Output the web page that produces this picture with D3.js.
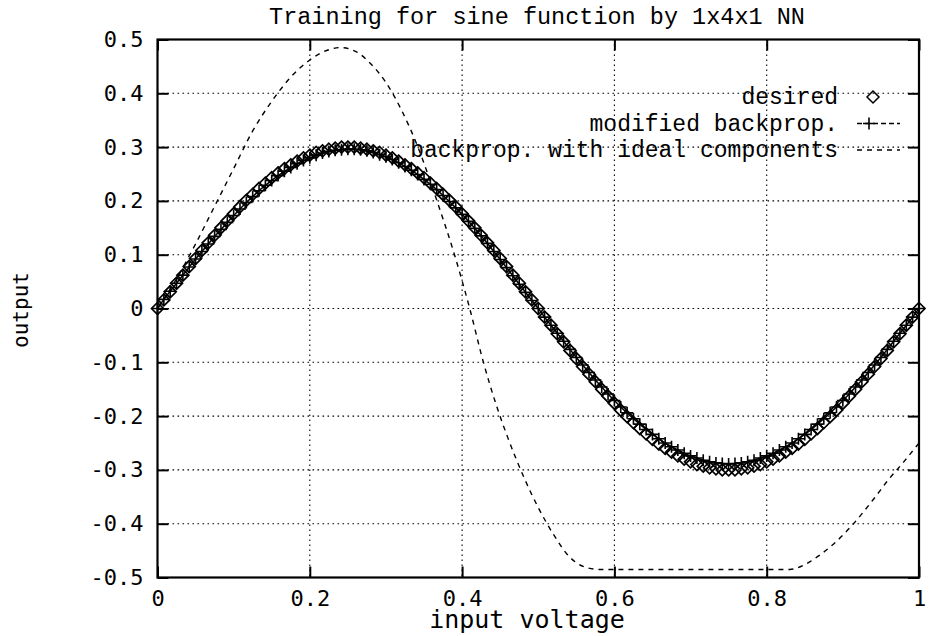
<!DOCTYPE html>
<html>
 <head>
  <meta charset="utf-8" />
  <title>Training for sine function by 1x4x1 NN</title>
  <script src="https://cdn.jsdelivr.net/npm/d3@7"></script>
  <style>
    body { margin: 0; background: #fff; }
  </style>
 </head>
 <body>
  <script>
    // sample inputs of the training set (evenly spaced on [0,1])
    var inputs = d3.range(121).map(function(i) { return i / 120; });

    var desired = [
      0, .016, .031, .047, .062, .078, .093, .108, .122, .136, .150, .163, .176, .189, .201, .212,
      .223, .233, .243, .252, .260, .267, .274, .280, .285, .290, .293, .296, .298, .300, .300,
      .300, .298, .296, .293, .290, .285, .280, .274, .267, .260, .252, .243, .233, .223, .212,
      .201, .189, .176, .163, .150, .136, .122, .108, .093, .078, .062, .047, .031, .016, 0,
      -.016, -.031, -.047, -.062, -.078, -.093, -.108, -.122, -.136, -.150, -.163, -.176, -.189, -.201, -.212,
      -.223, -.233, -.243, -.252, -.260, -.267, -.274, -.280, -.285, -.290, -.293, -.296, -.298, -.300, -.300,
      -.300, -.298, -.296, -.293, -.290, -.285, -.280, -.274, -.267, -.260, -.252, -.243, -.233, -.223, -.212,
      -.201, -.189, -.176, -.163, -.150, -.136, -.122, -.108, -.093, -.078, -.062, -.047, -.031, -.016, 0
    ];

    var modified = [
      0, .017, .032, .047, .062, .077, .092, .106, .120, .134, .147, .160, .173, .185, .197, .208,
      .219, .229, .238, .247, .255, .262, .269, .275, .280, .285, .289, .292, .294, .295, .296,
      .296, .295, .293, .290, .286, .282, .277, .271, .264, .257, .249, .240, .231, .221, .210,
      .199, .187, .175, .162, .149, .135, .121, .106, .091, .076, .061, .045, .030, .015, 0,
      -.016, -.031, -.046, -.061, -.076, -.091, -.105, -.119, -.133, -.146, -.159, -.171, -.183, -.194, -.205,
      -.215, -.225, -.234, -.242, -.250, -.257, -.263, -.269, -.274, -.278, -.282, -.285, -.287, -.288, -.289,
      -.288, -.287, -.285, -.282, -.278, -.274, -.269, -.263, -.257, -.250, -.242, -.234, -.225, -.215, -.205,
      -.194, -.183, -.171, -.159, -.146, -.133, -.119, -.105, -.091, -.076, -.061, -.046, -.031, -.016, 0
    ];

    // backprop. with ideal components
    var idealX = [0, .025, .05, .075, .1, .125, .15, .175, .2, .225, .24, .26, .28, .3, .32, .342,
                  .367, .39, .41, .428, .445, .46, .48, .5, .52, .54, .56, .58, .83, .85, .87,
                  .89, .914, .94, .96, .98, 1];
    var idealY = [0, .055, .12, .19, .26, .33, .385, .43, .462, .481, .485, .478, .455, .42, .37, .3,
                  .2, .1, 0, -.1, -.18, -.24, -.31, -.37, -.42, -.46, -.48, -.485, -.485, -.476, -.458,
                  -.435, -.4, -.355, -.318, -.285, -.25];

    var xTicks = [0, 0.2, 0.4, 0.6, 0.8, 1];
    var yTicks = [-0.5, -0.4, -0.3, -0.2, -0.1, 0, 0.1, 0.2, 0.3, 0.4, 0.5];

    var W = 929, H = 636;
    var pLeft = 157.5, pRight = 919, pTop = 39.5, pBottom = 577.5;

    var x = d3.scaleLinear().domain([0, 1]).range([pLeft, pRight]),
        y = d3.scaleLinear().domain([-0.5, 0.5]).range([pBottom, pTop]);

    var serif = "'Liberation Mono', 'Courier New', monospace",
        sans  = "'DejaVu Sans Mono', monospace";

    var svg = d3.select("body").append("svg")
        .attr("width", W).attr("height", H);

    svg.append("rect").attr("width", W).attr("height", H).attr("fill", "#fff");

    // grid
    var grid = svg.append("g")
        .attr("stroke", "#000").attr("stroke-width", 1.1)
        .attr("stroke-dasharray", "1.6,3.4");
    grid.selectAll(".gx").data(xTicks.slice(1, -1)).enter().append("line")
        .attr("x1", function(d) { return x(d); }).attr("x2", function(d) { return x(d); })
        .attr("y1", pTop).attr("y2", pBottom);
    grid.selectAll(".gy").data(yTicks.slice(1, -1)).enter().append("line")
        .attr("y1", function(d) { return y(d); }).attr("y2", function(d) { return y(d); })
        .attr("x1", pLeft).attr("x2", pRight);

    // axes: labels + inward ticks, mirrored
    var ax = svg.append("g")
        .attr("transform", "translate(0," + pBottom + ")")
        .call(d3.axisBottom(x).tickValues(xTicks).tickSize(-11).tickPadding(20)
          .tickFormat(function(d) { return d === 0 || d === 1 ? d : d3.format(".1f")(d); }));
    var axTop = svg.append("g")
        .attr("transform", "translate(0," + pTop + ")")
        .call(d3.axisTop(x).tickValues(xTicks).tickSize(-11).tickFormat(""));
    var ay = svg.append("g")
        .attr("transform", "translate(" + pLeft + ",0)")
        .call(d3.axisLeft(y).tickValues(yTicks).tickSize(-11).tickPadding(14)
          .tickFormat(function(d) { return d === 0 ? "0" : d3.format(".1f")(d).replace("\u2212", "-"); }));
    var ayRight = svg.append("g")
        .attr("transform", "translate(" + pRight + ",0)")
        .call(d3.axisRight(y).tickValues(yTicks).tickSize(-11).tickFormat(""));

    [ax, axTop, ay, ayRight].forEach(function(g) {
      g.select(".domain").remove();
      g.selectAll(".tick line").attr("stroke", "#000").attr("stroke-width", 2);
      g.selectAll("text").attr("fill", "#000")
        .style("font-family", sans).style("font-size", "22px");
    });
    ax.selectAll("text").attr("dy", "0.4em");

    // frame
    svg.append("rect")
        .attr("x", pLeft).attr("y", pTop)
        .attr("width", pRight - pLeft).attr("height", pBottom - pTop)
        .attr("fill", "none").attr("stroke", "#000").attr("stroke-width", 2.2);

    // ideal components: dashed
    var idealLine = d3.line()
        .x(function(d, i) { return x(idealX[i]); })
        .y(function(d) { return y(d); })
        .curve(d3.curveMonotoneX);
    svg.append("path")
        .attr("d", idealLine(idealY))
        .attr("fill", "none").attr("stroke", "#000")
        .attr("stroke-width", 1.4).attr("stroke-dasharray", "5,5");

    // modified backprop: line + crosses
    var line = d3.line()
        .x(function(d, i) { return x(inputs[i]); })
        .y(function(d) { return y(d); });
    svg.append("path")
        .attr("d", line(modified))
        .attr("fill", "none").attr("stroke", "#000").attr("stroke-width", 1.5);

    function plus(g, cx, cy, r) {
      g.append("path")
        .attr("d", "M" + (cx - r) + "," + cy + "H" + (cx + r) + "M" + cx + "," + (cy - r) + "V" + (cy + r))
        .attr("stroke", "#000").attr("stroke-width", 1.6).attr("fill", "none");
    }
    var crosses = svg.append("g");
    modified.forEach(function(v, i) { plus(crosses, x(inputs[i]), y(v), 6); });

    // desired: open diamonds
    var diamond = "M0,-6L6,0L0,6L-6,0Z";
    svg.append("g").selectAll("path").data(desired).enter().append("path")
        .attr("d", diamond)
        .attr("transform", function(d, i) { return "translate(" + x(inputs[i]) + "," + y(d) + ")"; })
        .attr("fill", "none")
        .attr("stroke", "#000").attr("stroke-width", 1.7);

    // legend
    var legendNames = ["desired", "modified backprop.", "backprop. with ideal components"];
    var lg = svg.append("g");
    legendNames.forEach(function(name, i) {
      var cy = 97 + i * 26.5;
      lg.append("text")
        .attr("x", 838).attr("y", cy + 7)
        .attr("text-anchor", "end")
        .style("font-family", serif).style("font-size", "23px")
        .text(name);
      if (i === 0) {
        lg.append("path").attr("d", diamond)
          .attr("transform", "translate(873," + cy + ")")
          .attr("fill", "none").attr("stroke", "#000").attr("stroke-width", 1.5);
      } else if (i === 1) {
        lg.append("line").attr("x1", 857).attr("x2", 900).attr("y1", cy).attr("y2", cy)
          .attr("stroke", "#000").attr("stroke-width", 1.5).attr("stroke-dasharray", "5,3");
        plus(lg, 869, cy, 6);
      } else {
        lg.append("line").attr("x1", 857).attr("x2", 900).attr("y1", cy).attr("y2", cy)
          .attr("stroke", "#000").attr("stroke-width", 1.4).attr("stroke-dasharray", "5,5");
      }
    });

    // titles
    svg.append("text")
        .attr("x", 537).attr("y", 24)
        .attr("text-anchor", "middle")
        .style("font-family", serif).style("font-size", "23.5px")
        .text("Training for sine function by 1x4x1 NN");

    svg.append("text")
        .attr("x", 527).attr("y", 628)
        .attr("text-anchor", "middle")
        .style("font-family", sans).style("font-size", "25px")
        .text("input voltage");

    svg.append("text")
        .attr("transform", "translate(28,310) rotate(-90)")
        .attr("text-anchor", "middle")
        .style("font-family", sans).style("font-size", "21px")
        .text("output");
  </script>
 </body>
</html>
